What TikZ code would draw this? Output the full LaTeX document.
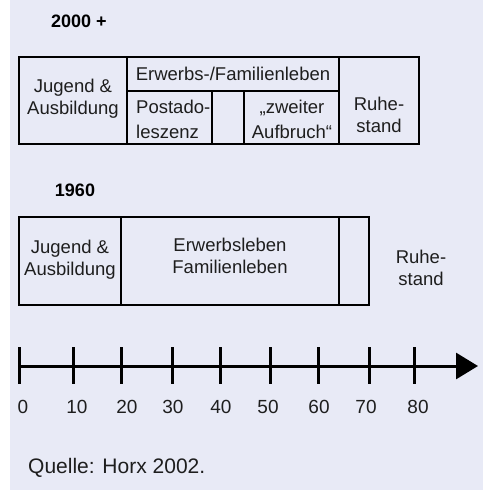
\documentclass[tikz,border=0pt]{standalone}
\usepackage{fontspec}
\setmainfont{Liberation Sans}
\usetikzlibrary{arrows.meta}
\definecolor{bglila}{RGB}{232,234,246}
\definecolor{txtgrau}{RGB}{30,30,30}
\tikzstyle{box} = [draw, line width=2pt]
\tikzstyle{lbl} = [inner sep=0pt, align=center, text=txtgrau, font=\fontsize{18.5}{22}\selectfont]
\tikzstyle{lblwide} = [inner sep=0pt, text=txtgrau, font=\fontsize{18.5}{25}\selectfont]
\tikzstyle{yearlbl} = [inner sep=0pt, font=\fontsize{18}{22}\selectfont\bfseries]
\tikzstyle{axis} = [line width=3pt, -{Triangle[length=22pt,width=26pt]}]
\tikzstyle{tick} = [line width=3pt]

\begin{document}
\begin{tikzpicture}[x=1pt,y=-1pt]
\useasboundingbox (0,0) rectangle (483,498);
\fill[bglila] (10,0) rectangle (483,490);
% 2000+
\node[yearlbl] (titleA) at (79,21) {2000 +};
\draw[box] (19,57) rectangle (419,144);
\draw[box] (127,57) -- (127,144);
\draw[box] (339,57) -- (339,144);
\draw[box] (127,91) -- (339,91);
\draw[box] (212,91) -- (212,144);
\draw[box] (244,91) -- (244,144);
\node[lbl] (jugendA) at (73,99) {Jugend \&\\Ausbildung};
\node[lbl] (erwerbA) at (233,74) {Erwerbs-/Familienleben};
\node[lblwide, align=left, anchor=west] (postA) at (136,119) {Postado-\\leszenz};
\node[lblwide, align=center] (aufbruchA) at (292,119) {„zweiter\\Aufbruch“};
\node[lbl] (ruheA) at (379,115) {Ruhe-\\stand};
% 1960
\node[yearlbl] (titleB) at (75,190) {1960};
\draw[box] (19,217) rectangle (369,305);
\draw[box] (121,217) -- (121,305);
\draw[box] (339,217) -- (339,305);
\node[lbl] (jugendB) at (70,260) {Jugend \&\\Ausbildung};
\node[lbl] (erwerbB) at (230,256) {Erwerbsleben\\Familienleben};
\node[lbl] (ruheB) at (421,268) {Ruhe-\\stand};
% Zeitachse
\coordinate (ax0) at (19,366);
\coordinate (axend) at (478,366);
\draw[axis] (ax0) -- (axend);
\foreach \tx/\lab/\lx in {19/0/23, 73/10/77, 121/20/127, 172/30/173, 220/40/221, 270/50/268, 318/60/319, 369/70/366, 414/80/418}{
  \draw[tick] (\tx,347) -- (\tx,384);
  \node[lbl, font=\fontsize{19}{22}\selectfont] (age\lab) at (\lx,407) {\lab};
}
\node[lbl, anchor=west, font=\fontsize{21}{24}\selectfont] (quelle) at (28,468) {Quelle: Horx 2002.};
\end{tikzpicture}
\end{document}
